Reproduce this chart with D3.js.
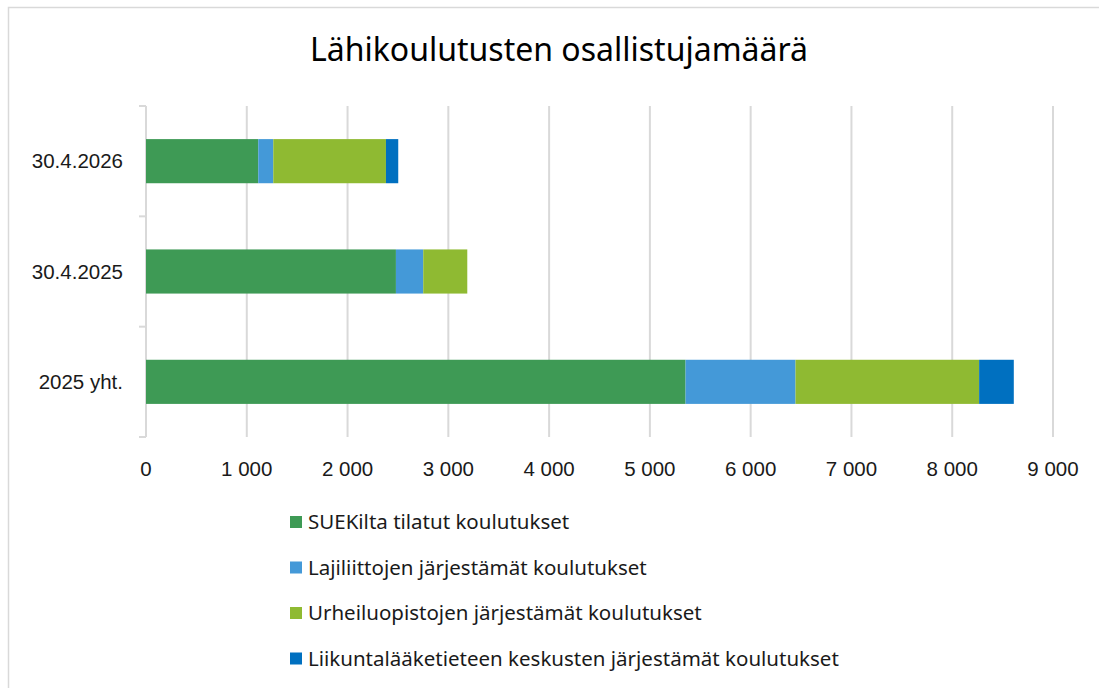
<!DOCTYPE html>
<html lang="fi">
<head>
    <meta charset="UTF-8">
    <title>Lähikoulutusten osallistujamäärä</title>
    <script src="https://d3js.org/d3.v7.min.js"></script>
    <style>
        body { margin: 0; background: #fff; }
        .grid line { stroke: #d9d9d9; stroke-width: 2px; }
        .axis text { font-family: "Liberation Sans", Arial, sans-serif; font-size: 20.5px; fill: #1a1a1a; }
        .title { font-family: "Noto Sans", sans-serif; font-size: 32px; fill: #000; text-anchor: middle; }
        .legend text { font-family: "Noto Sans", sans-serif; font-size: 20.5px; fill: #1a1a1a; }
    </style>
</head>
<body>
    <svg id="chart" width="1099" height="688"></svg>
    <script>
        // Data
        var categories = ["30.4.2026", "30.4.2025", "2025 yht."];
        var seriesNames = [
            "SUEKilta tilatut koulutukset",
            "Lajiliittojen järjestämät koulutukset",
            "Urheiluopistojen järjestämät koulutukset",
            "Liikuntalääketieteen keskusten järjestämät koulutukset"
        ];
        var suek = [1114, 2480, 5354];
        var lajiliitot = [149, 271, 1091];
        var urheiluopistot = [1118, 437, 1822];
        var liikuntalaaketiede = [122, 0, 344];
        var colors = ["#3e9a55", "#4499d8", "#8fba32", "#0070c0"];
        var xTicks = [0, 1000, 2000, 3000, 4000, 5000, 6000, 7000, 8000, 9000];

        var rows = categories.map(function(c, i) {
            return { cat: c, s0: suek[i], s1: lajiliitot[i], s2: urheiluopistot[i], s3: liikuntalaaketiede[i] };
        });
        var keys = ["s0", "s1", "s2", "s3"];
        var stacked = d3.stack().keys(keys)(rows);

        var svg = d3.select("#chart");

        // Chart area border
        svg.append("rect")
            .attr("x", 8.5).attr("y", 7.5)
            .attr("width", 1100).attr("height", 700)
            .attr("fill", "#fff")
            .attr("stroke", "#d9d9d9")
            .attr("stroke-width", 1.5);

        var margin = {top: 106, left: 146},
            width = 907,
            height = 331;

        var x = d3.scaleLinear().domain([0, 9000]).range([0, width]);
        var y = d3.scaleBand().domain(categories).range([0, height]).paddingInner(0.6).paddingOuter(0.3);

        var g = svg.append("g")
            .attr("transform", "translate(" + margin.left + "," + margin.top + ")");

        // Vertical gridlines
        g.append("g")
            .attr("class", "grid")
            .selectAll("line")
            .data(xTicks.slice(1))
            .join("line")
            .attr("x1", function(d) { return x(d); })
            .attr("x2", function(d) { return x(d); })
            .attr("y1", 0)
            .attr("y2", height);

        // Category axis line with ticks
        var step = height / categories.length;
        g.append("line")
            .attr("x1", 0).attr("x2", 0)
            .attr("y1", 0).attr("y2", height)
            .attr("stroke", "#d9d9d9").attr("stroke-width", 2);
        g.append("g")
            .selectAll("line")
            .data(d3.range(categories.length + 1))
            .join("line")
            .attr("x1", -7).attr("x2", 0)
            .attr("y1", function(d) { return d * step; })
            .attr("y2", function(d) { return d * step; })
            .attr("stroke", "#d9d9d9").attr("stroke-width", 2);

        // Bars
        g.append("g")
            .selectAll("g")
            .data(stacked)
            .join("g")
            .attr("fill", function(d, i) { return colors[i]; })
            .selectAll("rect")
            .data(function(d) { return d; })
            .join("rect")
            .attr("x", function(d) { return x(d[0]); })
            .attr("y", function(d) { return y(d.data.cat); })
            .attr("width", function(d) { return x(d[1]) - x(d[0]); })
            .attr("height", y.bandwidth());

        // Category labels
        g.append("g")
            .attr("class", "axis")
            .selectAll("text")
            .data(categories)
            .join("text")
            .attr("x", -23)
            .attr("y", function(d) { return y(d) + y.bandwidth() / 2; })
            .attr("dy", "0.35em")
            .attr("text-anchor", "end")
            .text(function(d) { return d; });

        // Value axis labels
        var fmt = function(d) { return d3.format(",")(d).replace(",", " "); };
        g.append("g")
            .attr("class", "axis")
            .selectAll("text")
            .data(xTicks)
            .join("text")
            .attr("x", function(d) { return x(d); })
            .attr("y", height + 32)
            .attr("dy", "0.35em")
            .attr("text-anchor", "middle")
            .text(fmt);

        // Title
        svg.append("text")
            .attr("class", "title")
            .attr("x", 559)
            .attr("y", 61)
            .text("Lähikoulutusten osallistujamäärä");

        // Legend
        var legend = svg.append("g").attr("class", "legend")
            .selectAll("g")
            .data(seriesNames)
            .join("g")
            .attr("transform", function(d, i) { return "translate(290," + (522 + i * 45.5) + ")"; });
        legend.append("rect")
            .attr("x", 0).attr("y", -6)
            .attr("width", 12).attr("height", 12)
            .attr("fill", function(d, i) { return colors[i]; });
        legend.append("text")
            .attr("x", 18)
            .attr("dy", "0.35em")
            .text(function(d) { return d; });
    </script>
</body>
</html>
